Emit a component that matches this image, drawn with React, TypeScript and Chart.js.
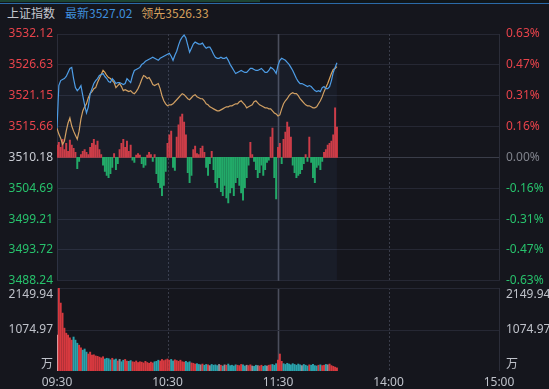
import React, { useEffect, useRef } from 'react';
import { Chart, registerables } from 'chart.js';

Chart.register(...registerables);

// ---------- data ----------
const PREV_CLOSE = 3510.18;
const PRICE_TICKS = [3488.24, 3493.72, 3499.21, 3504.69, 3510.18, 3515.66, 3521.15, 3526.63, 3532.12];
const PCT_LABELS = ['-0.63%', '-0.47%', '-0.31%', '-0.16%', '0.00%', '0.16%', '0.31%', '0.47%', '0.63%'];
const TIME_TICKS = [0, 60, 120, 180, 240];
const TIME_LABELS = ['09:30', '10:30', '11:30', '14:00', '15:00'];
const VOL_TICKS = [0, 1074.97, 2149.94];
const VOL_LABELS = ['万', '1074.97', '2149.94'];
const HEADER_NAME = '上证指数';
const HEADER_LATEST = '最新3527.02';
const HEADER_LEAD = '领先3526.33';

const LATEST = [
  3515.39, 3522.95, 3523.84, 3524.02, 3524.20, 3524.56, 3525.28, 3526.00, 3526.18, 3524.20,
  3522.59, 3522.05, 3522.41, 3522.95, 3521.15, 3519.53, 3518.09, 3519.17, 3521.51, 3522.41,
  3523.31, 3523.84, 3524.20, 3524.74, 3524.92, 3525.10, 3524.56, 3524.20, 3523.67, 3523.49,
  3524.20, 3523.84, 3523.31, 3523.49, 3523.49, 3523.31, 3523.13, 3523.31, 3524.20, 3523.84,
  3523.49, 3524.74, 3525.64, 3525.82, 3526.00, 3526.18, 3526.72, 3526.90, 3527.26, 3527.44,
  3527.62, 3527.80, 3527.98, 3527.80, 3527.62, 3527.44, 3527.80, 3527.98, 3528.16, 3528.34,
  3528.52, 3528.70, 3528.16, 3527.44, 3528.34, 3529.06, 3530.14, 3531.04, 3531.58, 3531.94,
  3531.40, 3530.14, 3528.88, 3529.60, 3530.32, 3530.68, 3530.50, 3530.32, 3530.32, 3530.50,
  3529.96, 3529.60, 3529.78, 3529.78, 3529.24, 3528.52, 3527.98, 3527.80, 3527.80, 3527.98,
  3527.80, 3527.80, 3527.98, 3527.44, 3526.72, 3526.18, 3525.64, 3525.10, 3525.28, 3525.46,
  3525.64, 3525.46, 3525.28, 3525.28, 3525.64, 3526.00, 3526.00, 3525.82, 3525.64, 3525.64,
  3525.82, 3526.00, 3525.64, 3525.28, 3525.28, 3525.64, 3526.18, 3526.00, 3525.64, 3525.10,
  3526.54, 3527.44, 3527.80, 3527.62, 3527.44, 3527.08, 3526.72, 3526.18, 3525.64, 3524.92,
  3524.20, 3523.67, 3523.31, 3523.31, 3523.13, 3522.95, 3522.77, 3522.95, 3522.77, 3522.41,
  3522.05, 3521.87, 3522.05, 3521.87, 3522.59, 3522.77, 3522.41, 3522.41, 3522.77, 3523.84,
  3525.28, 3526.18, 3527.02,
];

const LEADING = [
  3515.39, 3514.32, 3513.60, 3512.52, 3513.06, 3514.85, 3516.29, 3517.19, 3515.75, 3514.85,
  3514.14, 3513.42, 3514.85, 3517.01, 3518.45, 3519.17, 3519.71, 3520.79, 3521.51, 3521.87,
  3522.41, 3522.59, 3523.49, 3524.20, 3524.92, 3525.64, 3525.28, 3524.74, 3524.38, 3524.20,
  3523.84, 3523.49, 3522.59, 3522.95, 3523.31, 3522.77, 3522.05, 3522.23, 3522.05, 3521.87,
  3522.05, 3521.69, 3521.51, 3521.87, 3522.41, 3523.13, 3524.02, 3524.74, 3524.56, 3524.20,
  3524.38, 3523.84, 3523.13, 3522.95, 3523.13, 3523.31, 3522.41, 3521.15, 3520.25, 3519.71,
  3519.35, 3519.53, 3519.53, 3519.71, 3520.07, 3520.43, 3520.79, 3521.15, 3521.51, 3521.33,
  3520.97, 3520.61, 3520.43, 3520.79, 3521.15, 3521.33, 3520.97, 3520.79, 3520.61, 3520.61,
  3520.25, 3519.71, 3519.53, 3519.17, 3518.99, 3518.81, 3518.63, 3518.45, 3518.45, 3518.63,
  3518.81, 3518.99, 3519.17, 3519.17, 3519.35, 3519.35, 3519.53, 3519.71, 3519.71, 3520.07,
  3520.25, 3519.89, 3519.53, 3518.99, 3519.17, 3519.35, 3519.53, 3520.07, 3520.25, 3519.89,
  3519.53, 3519.35, 3519.17, 3518.99, 3518.99, 3518.81, 3518.81, 3518.45, 3518.09, 3517.91,
  3517.55, 3517.73, 3518.81, 3519.71, 3520.25, 3520.61, 3521.15, 3521.51, 3521.69, 3521.51,
  3521.51, 3521.15, 3520.61, 3520.25, 3519.89, 3519.53, 3519.35, 3519.35, 3519.17, 3518.99,
  3518.99, 3519.17, 3519.71, 3520.25, 3520.97, 3521.87, 3522.59, 3523.31, 3524.20, 3525.10,
  3525.82, 3526.00, 3526.33,
];

// buy/sell strength bars, in index points relative to previous close
const STRENGTH = [
  2.2, 2.7, 1.8, 3.2, 1.4, 2.5, 1.1, 3.1, 2.2, 1.6,
  0.9, -2.0, -0.7, 0.5, 1.1, 1.4, 0.9, 0.5, 1.8, 2.5,
  3.2, 2.2, 2.9, 1.4, 0.5, -1.4, -2.5, -3.2, -3.6, -2.9,
  -1.8, 0.7, -2.2, -1.1, 1.4, 2.5, 3.2, 1.8, 2.9, 1.1,
  2.2, -0.5, -0.9, 0.4, 0.7, 0.4, -1.1, -1.8, -1.4, 0.4,
  0.9, 0.5, -0.7, 0.5, -2.9, -4.5, -5.4, -6.8, -5.0, -2.5,
  2.5, 4.0, 4.7, -1.8, -2.3, 3.6, 5.8, 7.2, 7.7, 6.3,
  4.0, -2.7, -4.5, -3.2, 1.4, 2.0, 0.7, 0.5, 1.6, 2.0,
  0.9, -1.8, -3.2, -1.1, 1.1, -2.2, -4.5, -5.4, -3.6, -6.1,
  -6.8, -5.0, -7.2, -8.1, -6.3, -5.4, -6.8, -4.5, -3.6, -5.0,
  -6.3, -7.6, -5.4, -3.6, -1.4, 2.7, 0.5, -0.7, -2.2, -3.6,
  -2.7, -1.4, -3.2, -2.2, -0.9, -0.5, 3.6, 5.2, -3.6, -7.4,
  1.8, 2.5, -1.1, 3.2, 4.5, 6.3, 5.4, 3.6, -1.4, -2.7,
  -3.6, -3.2, -2.9, -2.2, -1.1, 0.5, -0.7, 3.6, -0.9, -3.6,
  -4.5, -1.8, -1.4, -2.2, -0.7, 0.9, 1.4, 2.2, 2.5, 2.9,
  4.0, 8.8, 5.4,
];

// volume, 万
const VOLUME = [
  930, 2150, 1760, 1500, 1110, 980, 930, 860, 800, 880,
  800, 720, 670, 600, 540, 570, 490, 440, 490, 410,
  420, 390, 380, 360, 340, 370, 310, 330, 320, 290,
  330, 290, 310, 260, 300, 240, 280, 300, 260, 250,
  270, 240, 230, 260, 220, 240, 230, 210, 250, 220,
  200, 230, 210, 240, 250, 280, 260, 300, 270, 290,
  310, 280, 300, 260, 290, 270, 250, 280, 240, 230,
  250, 220, 240, 210, 200, 180, 190, 170, 160, 180,
  150, 170, 160, 140, 170, 150, 160, 140, 170, 150,
  130, 160, 150, 180, 140, 150, 130, 160, 150, 140,
  170, 160, 130, 150, 140, 160, 130, 120, 150, 140,
  130, 150, 120, 140, 130, 150, 160, 170, 150, 190,
  280, 440, 250, 190, 170, 200, 180, 160, 190, 170,
  150, 180, 160, 140, 170, 150, 130, 160, 150, 170,
  140, 130, 150, 160, 140, 150, 170, 160, 180, 140,
  120, 100, 80,
];

// ---------- styles ----------
const BG = '#15161d';
const GRID = '#262834';
const RED = '#e8434b';
const GREEN = '#27c26c';
const GRAY = '#c9ccd3';
const FONT = '"Noto Sans", "Noto Sans CJK SC", sans-serif';

const vLinesPlugin = {
  id: 'vLines',
  beforeDatasetsDraw(chart: any) {
    const { ctx, chartArea, scales } = chart;
    const x = scales.x;
    ctx.save();
    TIME_TICKS.forEach((t, i) => {
      const px = Math.round(x.getPixelForValue(t)) + 0.5;
      ctx.beginPath();
      if (i === 0 || i === TIME_TICKS.length - 1) {
        ctx.setLineDash([]);
        ctx.strokeStyle = '#2b2d39';
        ctx.lineWidth = 1;
      } else if (t === 120) {
        ctx.setLineDash([]);
        ctx.strokeStyle = '#4b4e5c';
        ctx.lineWidth = 1.6;
      } else {
        ctx.setLineDash([2, 2]);
        ctx.strokeStyle = '#3a3d4a';
        ctx.lineWidth = 1;
      }
      ctx.moveTo(px, chartArea.top);
      ctx.lineTo(px, chartArea.bottom);
      ctx.stroke();
    });
    ctx.restore();
  },
};

const volGridPlugin = {
  id: 'volGrid',
  beforeDatasetsDraw(chart: any) {
    const { ctx, chartArea, scales } = chart;
    const y = scales.y;
    ctx.save();
    ctx.strokeStyle = GRID;
    ctx.lineWidth = 1;
    [VOL_TICKS[1], VOL_TICKS[2]].forEach((v) => {
      const py = Math.round(y.getPixelForValue(v)) + 0.5;
      ctx.beginPath();
      ctx.moveTo(chartArea.left, py);
      ctx.lineTo(chartArea.right, py);
      ctx.stroke();
    });
    ctx.restore();
  },
  afterDraw(chart: any) {
    const { ctx, chartArea, scales } = chart;
    const y = scales.y;
    ctx.save();
    ctx.font = `12px ${FONT}`;
    ctx.fillStyle = '#bfc2ca';
    VOL_TICKS.forEach((v, i) => {
      const py = y.getPixelForValue(v);
      let yy = py;
      if (i === VOL_TICKS.length - 1) {
        ctx.textBaseline = 'top';
        yy = py + 1;
      } else if (i === 0) {
        ctx.textBaseline = 'bottom';
        yy = py;
      } else {
        ctx.textBaseline = 'middle';
      }
      ctx.textAlign = 'right';
      ctx.fillText(VOL_LABELS[i], chartArea.left - 4, yy);
      ctx.textAlign = 'left';
      ctx.fillText(VOL_LABELS[i], chartArea.right + 7, yy);
    });
    ctx.restore();
  },
};

function priceColor(v: number) {
  if (v > PREV_CLOSE + 0.001) return RED;
  if (v < PREV_CLOSE - 0.001) return GREEN;
  return GRAY;
}

export default function App() {
  const mainRef = useRef<HTMLCanvasElement | null>(null);
  const volRef = useRef<HTMLCanvasElement | null>(null);

  useEffect(() => {
    const mainCanvas = mainRef.current;
    const volCanvas = volRef.current;
    if (!mainCanvas || !volCanvas) return;

    const main = new Chart(mainCanvas, {
      type: 'line',
      data: {
        datasets: [
          {
            type: 'line',
            data: LATEST.map((y, i) => ({ x: i, y })),
            borderColor: '#4e9de6',
            borderWidth: 1.2,
            pointRadius: 0,
            tension: 0,
            fill: 'start',
            backgroundColor: 'rgba(90,130,200,0.07)',
            order: 0,
          },
          {
            type: 'line',
            data: LEADING.map((y, i) => ({ x: i, y })),
            borderColor: '#dba35c',
            borderWidth: 1.2,
            pointRadius: 0,
            tension: 0,
            fill: false,
            order: 0,
          },
          {
            type: 'bar',
            data: STRENGTH.map((v, i) => ({ x: i, y: [PREV_CLOSE, PREV_CLOSE + v] })),
            backgroundColor: STRENGTH.map((v) => (v >= 0 ? '#d5383f' : '#1fae62')),
            barThickness: 1.3,
            order: 1,
          } as any,
        ],
      },
      options: {
        animation: false,
        responsive: false,
        maintainAspectRatio: false,
        events: [],
        layout: { padding: { top: 34, bottom: 7, left: 0, right: 0 } },
        plugins: { legend: { display: false }, tooltip: { enabled: false } },
        scales: {
          x: { type: 'linear', min: 0, max: 240, display: false, offset: false },
          y: {
            position: 'left',
            min: PRICE_TICKS[0],
            max: PRICE_TICKS[PRICE_TICKS.length - 1],
            afterBuildTicks: (s: any) => {
              s.ticks = PRICE_TICKS.map((v) => ({ value: v }));
            },
            afterFit: (s: any) => {
              s.width = 57;
            },
            border: { display: false },
            grid: {
              drawTicks: false,
              color: (c: any) =>
                c.tick && Math.abs(c.tick.value - PREV_CLOSE) < 0.01 ? '#3a3d49' : GRID,
            },
            ticks: {
              padding: 4,
              autoSkip: false,
              font: { family: FONT, size: 12 },
              color: (c: any) => priceColor(c.tick.value),
              callback: (v: any) => Number(v).toFixed(2),
            },
          },
          yPct: {
            position: 'right',
            min: PRICE_TICKS[0],
            max: PRICE_TICKS[PRICE_TICKS.length - 1],
            afterBuildTicks: (s: any) => {
              s.ticks = PRICE_TICKS.map((v) => ({ value: v }));
            },
            afterFit: (s: any) => {
              s.width = 50;
            },
            border: { display: false },
            grid: { display: false, drawTicks: false },
            ticks: {
              padding: 7,
              autoSkip: false,
              font: { family: FONT, size: 12 },
              color: (c: any) => (priceColor(c.tick.value) === GRAY ? '#80838c' : priceColor(c.tick.value)),
              callback: (_v: any, i: number) => PCT_LABELS[i],
            },
          },
        },
      } as any,
      plugins: [vLinesPlugin],
    });

    const volColors = VOLUME.map((_, i) => {
      if (i === 0) return '#d9aab2';
      const d = LATEST[i] - LATEST[i - 1];
      if (d > 0) return '#d6393f';
      if (d < 0) return '#2aa2ac';
      return '#8d9099';
    });

    const vol = new Chart(volCanvas, {
      type: 'bar',
      data: {
        datasets: [
          {
            data: VOLUME.map((v, i) => ({ x: i, y: v })),
            backgroundColor: volColors,
            barThickness: 1.3,
          } as any,
        ],
      },
      options: {
        animation: false,
        responsive: false,
        maintainAspectRatio: false,
        events: [],
        layout: { padding: { top: 3, bottom: 0, left: 57, right: 50 } },
        plugins: { legend: { display: false }, tooltip: { enabled: false } },
        scales: {
          x: {
            type: 'linear',
            min: 0,
            max: 240,
            offset: false,
            afterBuildTicks: (s: any) => {
              s.ticks = TIME_TICKS.map((v) => ({ value: v }));
            },
            afterFit: (s: any) => {
              s.height = 18;
            },
            border: { display: false },
            grid: { display: false, drawTicks: false },
            ticks: {
              padding: 4,
              autoSkip: false,
              maxRotation: 0,
              font: { family: FONT, size: 12 },
              color: '#bfc2ca',
              callback: (_v: any, i: number) => TIME_LABELS[i],
            },
          },
          y: { display: false, min: 0, max: VOL_TICKS[2] },
        },
      } as any,
      plugins: [vLinesPlugin, volGridPlugin],
    });

    return () => {
      main.destroy();
      vol.destroy();
    };
  }, []);

  return (
    <div
      style={{
        position: 'fixed',
        left: 0,
        top: 0,
        width: 549,
        height: 389,
        background: BG,
        overflow: 'hidden',
        fontFamily: FONT,
      }}
    >
      <div style={{ position: 'absolute', left: 0, top: 0, width: 549, height: 3, background: '#10161a' }} />
      <div style={{ position: 'absolute', left: 0, top: 0, width: 260, height: 2, background: '#1d4433' }} />
      <div style={{ position: 'absolute', left: 0, top: 3, width: 549, height: 1, background: '#2b6aa8' }} />
      <div
        style={{
          position: 'absolute',
          left: 7,
          top: 5,
          height: 16,
          lineHeight: '16px',
          fontSize: 12,
          whiteSpace: 'nowrap',
          fontFamily: '"Noto Sans CJK SC", "Noto Sans", sans-serif',
        }}
      >
        <span style={{ color: '#c4c7cf', marginRight: 10 }}>{HEADER_NAME}</span>
        <span style={{ color: '#3f8fdc', marginRight: 9 }}>{HEADER_LATEST}</span>
        <span style={{ color: '#d6a05c' }}>{HEADER_LEAD}</span>
      </div>
      <canvas
        ref={mainRef}
        width={549}
        height={295}
        style={{ position: 'absolute', left: 0, top: 0, width: 549, height: 295, display: 'block' }}
      />
      <canvas
        ref={volRef}
        width={549}
        height={104}
        style={{ position: 'absolute', left: 0, top: 285, width: 549, height: 104, display: 'block' }}
      />
    </div>
  );
}
